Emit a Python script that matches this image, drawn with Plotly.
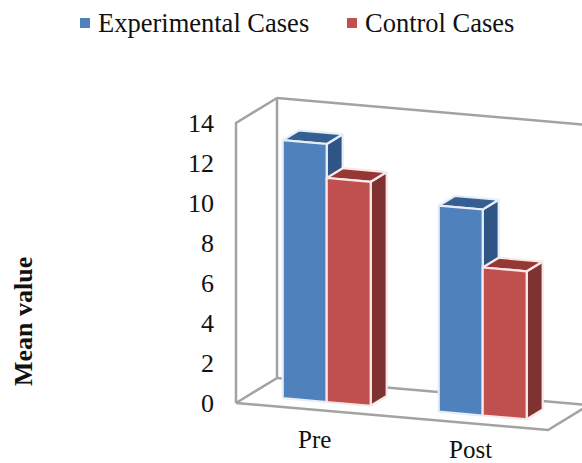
import plotly.graph_objects as go

# Chart data
categories = ["Pre", "Post"]
experimental = [12.9, 10.3]
control = [11.2, 7.4]
tick_values = [0, 2, 4, 6, 8, 10, 12, 14]

W, H = 582, 463
FONT = "Liberation Serif"

# Oblique 3D view: pixels per category, per value unit, and per unit of depth
CAT_PX, VAL_PX = 156.0, 20.0
DEPTH_X, DEPTH_Y = 41.0, 25.0
SLOPE = 0.0865
ORIGIN_X, ORIGIN_Y = 236.0, 403.0

BAR_W = 0.282
BAR_GAP = 0.218
D_FRONT, D_BACK = 0.31, 0.70
Y_MAX = 14


def project(c, d, v):
    """Map (category position, depth, value) onto the flat axes."""
    x = c + d * DEPTH_X / CAT_PX
    y = v + d * DEPTH_Y / VAL_PX - c * CAT_PX * SLOPE / VAL_PX
    return x, y


def from_px(px, py):
    return (px - ORIGIN_X) / CAT_PX, (ORIGIN_Y - py) / VAL_PX


def face(corners, color, edge):
    pts = [project(*p) for p in corners]
    pts.append(pts[0])
    return go.Scatter(
        x=[p[0] for p in pts], y=[p[1] for p in pts],
        mode="lines", fill="toself", fillcolor=color,
        line=dict(color=edge, width=2.2), hoverinfo="skip", showlegend=False,
    )


def wall_line(points):
    pts = [project(*p) for p in points]
    return go.Scatter(
        x=[p[0] for p in pts], y=[p[1] for p in pts], mode="lines",
        line=dict(color="#a3a3a3", width=2.5), hoverinfo="skip", showlegend=False,
    )


fig = go.Figure()

# Walls and floor of the 3D box
n = len(categories)
fig.add_trace(wall_line([(0, 0, 0), (0, 0, Y_MAX), (0, 1, Y_MAX), (0, 1, 0), (0, 0, 0)]))
fig.add_trace(wall_line([(0, 1, Y_MAX), (n, 1, Y_MAX)]))
fig.add_trace(wall_line([(0, 1, 0), (n, 1, 0), (n, 0, 0), (0, 0, 0)]))


def add_bar(c0, value, front, top, side, edge):
    c1 = c0 + BAR_W
    fig.add_trace(face([(c1, D_FRONT, 0), (c1, D_BACK, 0), (c1, D_BACK, value), (c1, D_FRONT, value)], side, edge))
    fig.add_trace(face([(c0, D_FRONT, value), (c1, D_FRONT, value), (c1, D_BACK, value), (c0, D_BACK, value)], top, edge))
    fig.add_trace(face([(c0, D_FRONT, 0), (c1, D_FRONT, 0), (c1, D_FRONT, value), (c0, D_FRONT, value)], front, edge))


for i in range(n):
    start = i + BAR_GAP
    add_bar(start, experimental[i], "#4f81bd", "#355f91", "#2f5486", "#e6eef7")
    add_bar(start + BAR_W, control[i], "#c0504d", "#953735", "#7f3230", "#f8e8e8")

annotations = []

# Legend row across the top: square swatch followed by its label
for name, color, px, text_px in [
    ("Experimental Cases", "#4f81bd", 85, 96),
    ("Control Cases", "#c0504d", 352, 363),
]:
    lx, ly = from_px(px, 23)
    fig.add_trace(go.Scatter(
        x=[lx], y=[ly], mode="markers",
        marker=dict(symbol="square", size=10, color=color),
        hoverinfo="skip", showlegend=False,
    ))
    ax, ay = from_px(text_px, 23)
    annotations.append(dict(
        x=ax, y=ay, text=name, showarrow=False, xanchor="left", yanchor="middle",
        font=dict(family=FONT, size=26.5, color="#111111"),
    ))

# Category labels follow the sloping floor but stay inside the page
LABEL_FLOOR = from_px(0, H - 14)[1]
for i, name in enumerate(categories):
    ax, ay = project(i + 0.5, 0, -1.5)
    annotations.append(dict(
        x=ax, y=max(ay, LABEL_FLOOR), text=name, showarrow=False,
        xanchor="center", yanchor="middle",
        font=dict(family=FONT, size=25, color="#111111"),
    ))
tx, ty = from_px(23, 322)
annotations.append(dict(
    x=tx, y=ty, text="<b>Mean value</b>", textangle=-90, showarrow=False,
    xanchor="center", yanchor="middle",
    font=dict(family=FONT, size=26, color="#111111"),
))

xr = [from_px(0, 0)[0], from_px(W, 0)[0]]
yr = [from_px(0, H)[1], from_px(0, 0)[1]]

fig.update_layout(
    width=W, height=H, margin=dict(l=0, r=0, t=0, b=0),
    paper_bgcolor="white", plot_bgcolor="white", showlegend=False,
    annotations=annotations,
    xaxis=dict(range=xr, visible=False, fixedrange=True),
    yaxis=dict(
        range=yr, anchor="free", position=ORIGIN_X / W,
        tickmode="array", tickvals=tick_values,
        ticktext=[str(v) for v in tick_values],
        showgrid=False, zeroline=False, showline=False, ticks="",
        ticklabelstandoff=22,
        tickfont=dict(family=FONT, size=26, color="#111111"),
        fixedrange=True,
    ),
)

fig.write_html("out.html", config={"displayModeBar": False})
